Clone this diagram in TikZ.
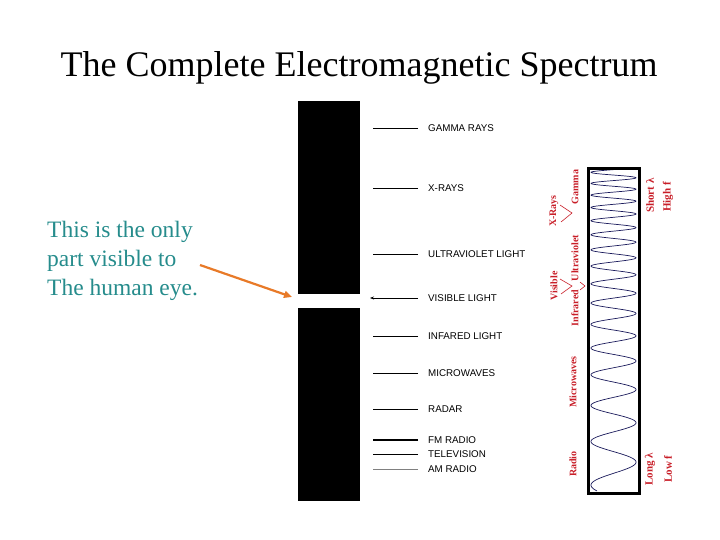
\documentclass[tikz,border=0pt]{standalone}
\usepackage{fontspec}
\setmainfont{Liberation Serif}
\setsansfont{Liberation Sans}
\usetikzlibrary{calc,arrows.meta}
\definecolor{notecol}{RGB}{38,140,140}
\definecolor{bandred}{RGB}{200,30,40}
\definecolor{wavecol}{RGB}{25,25,90}
\definecolor{pointcol}{RGB}{232,122,40}

\begin{document}
\begin{tikzpicture}[x=1pt,y=-1pt,
    band/.style={font=\sffamily\fontsize{9.8}{10}\selectfont, anchor=west, inner sep=0pt},
    tick/.style={black, line width=0.8pt},
    redlab/.style={text=bandred, font=\fontsize{10}{10}\selectfont\bfseries, rotate=90, inner sep=0pt},
    redline/.style={bandred, line width=0.6pt}]
    \useasboundingbox (0,0) rectangle (720,540);
    % title
    \node[anchor=base, font=\fontsize{36}{40}\selectfont] (title) at (359,77) {The Complete Electromagnetic Spectrum};
    % black bar with the visible gap
    \fill[black] (298,101) rectangle (360,294);
    \fill[black] (298,308) rectangle (360,501);
    \coordinate (gap) at (292,297);
    % bands
    \node[band] (gamma) at (428,128) {GAMMA RAYS};
    \node[band] (xrays) at (428,188) {X-RAYS};
    \node[band] (uv) at (428,254) {ULTRAVIOLET LIGHT};
    \node[band] (visible) at (428,298) {VISIBLE LIGHT};
    \node[band] (infra) at (428,336) {INFARED LIGHT};
    \node[band] (micro) at (428,373) {MICROWAVES};
    \node[band] (radar) at (428,409) {RADAR};
    \node[band] (fm) at (428,440) {FM RADIO};
    \node[band] (tv) at (428,454) {TELEVISION};
    \node[band] (am) at (428,469) {AM RADIO};
    \draw[tick] ([xshift=-10pt]gamma.west) -- ++(-45,0);
    \draw[tick] ([xshift=-10pt]xrays.west) -- ++(-45,0);
    \draw[tick] ([xshift=-10pt]uv.west) -- ++(-45,0);
    \draw[tick, -{Stealth[length=4pt,width=3pt]}] ([xshift=-10pt]visible.west) -- ++(-48,0);
    \draw[tick] ([xshift=-10pt]infra.west) -- ++(-45,0);
    \draw[tick] ([xshift=-10pt]micro.west) -- ++(-45,0);
    \draw[tick] ([xshift=-10pt]radar.west) -- ++(-45,0);
    \draw[tick, line width=1.1pt] ([xshift=-10pt]fm.west) -- ++(-45,0);
    \draw[tick] ([xshift=-10pt]tv.west) -- ++(-45,0);
    \draw[tick, gray] ([xshift=-10pt]am.west) -- ++(-45,0);
    % note and its arrow
    \node[anchor=north west, align=left, inner sep=0pt, text=notecol,
          font=\fontsize{23.5}{29}\selectfont] (note) at (47,221)
          {This is the only\\part visible to\\The human eye.};
    \coordinate (tail) at (200,265);
    \draw[pointcol, line width=2.2pt, -{Triangle[length=8pt,width=7pt]}] (tail) -- (gap);
    % wave box
    \draw[wavecol, line width=0.7pt] plot[domain=0:322, samples=1000, variable=\s]
        ({613.5-22.5*cos(deg(26.2*(exp(0.0048*\s)-1)-0.75))}, {491-\s});
    \draw[line width=3pt] (588,169) rectangle (639,493);
    % red labels
    \node[redlab] (radio) at (573,464) {Radio};
    \node[redlab] (microlab) at (573,382) {Microwaves};
    \node[redlab] (infralab) at (575,308) {Infrared};
    \node[redlab] (vislab) at (554,286) {Visible};
    \node[redlab] (uvlab) at (575,258) {Ultraviolet};
    \node[redlab] (xlab) at (554,211) {X-Rays};
    \node[redlab] (gammalab) at (575,187) {Gamma};
    \draw[redline] (560,205) -- (572,213) -- (561,222);
    \draw[redline] (560,279) -- (572,286) -- (561,294);
    \draw[redline] (580,282) -- (585,286) -- (580,290);
    \node[redlab, anchor=west, font=\fontsize{11}{11}\selectfont\bfseries] (short) at (650,213) {Short λ};
    \node[redlab, anchor=west, font=\fontsize{11}{11}\selectfont\bfseries] (high) at (668,212) {High f};
    \node[redlab, anchor=west, font=\fontsize{11}{11}\selectfont\bfseries] (long) at (650,486) {Long λ};
    \node[redlab, anchor=west, font=\fontsize{11}{11}\selectfont\bfseries] (low) at (668,483) {Low f};
\end{tikzpicture}
\end{document}
